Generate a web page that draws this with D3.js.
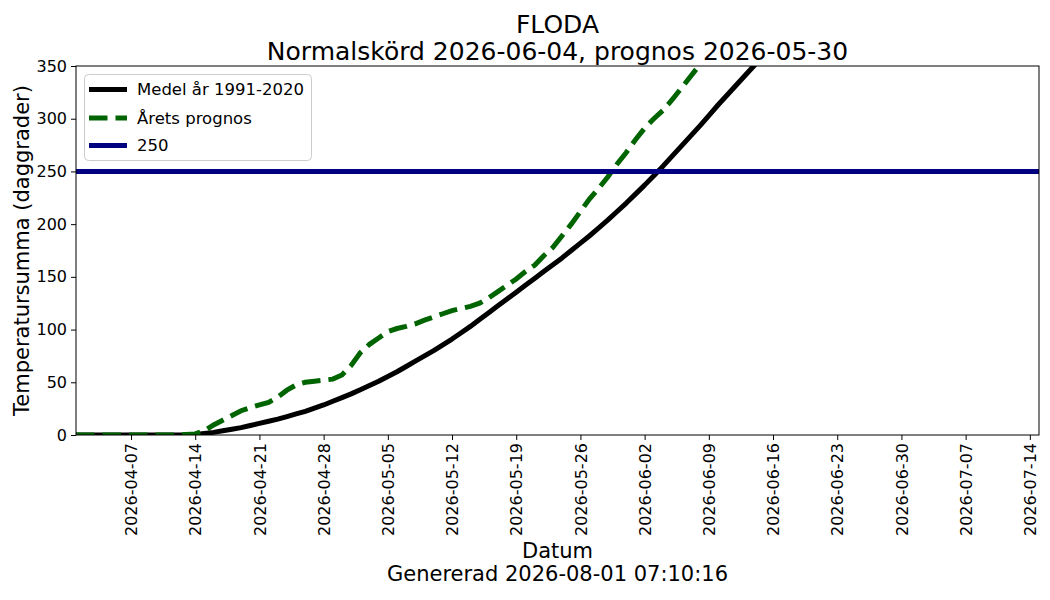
<!DOCTYPE html>
<html>
<head>
<meta charset="utf-8">
<script src="https://cdn.jsdelivr.net/npm/d3@7"></script>
<style>
  body { margin: 0; background: #fff; }
  text { font-family: "DejaVu Sans", sans-serif; }
</style>
</head>
<body>
<script>
const WIDTH = 1050;
const HEIGHT = 600;
const MARGIN = { top: 66, right: 11, bottom: 165, left: 76 };

// data, one value per day starting at START_DATE
const START_DATE = "2026-04-01";
const END_DATE = "2026-07-15";
const MEDEL = [
  0, 0, 0, 0, 0, 0, 0, 0, 0, 0, 0, 0, 0, 0.5, 1.5, 2.5, 4, 5.5, 7, 9,
  11, 13, 15, 17.5, 20, 22.5, 25.5, 28.5, 32, 35.5, 39, 43, 47, 51, 55.5, 60, 65, 70, 75, 80,
  85.5, 91, 97, 103, 109.5, 116, 122.5, 129, 135.5, 142, 148.5, 155, 161.5, 168, 175, 182, 189, 196.5, 204, 212,
  220, 228.5, 237, 246, 255, 264.5, 274, 283.5, 293, 303, 313, 322.5, 332, 341.5, 351, 360.5
];
const PROGNOS = [
  0, 0, 0, 0, 0, 0, 0, 0, 0, 0, 0, 0, 0.5, 1, 4, 9.5, 14, 18.5, 23, 26,
  28.5, 31, 36, 42.5, 47.5, 50, 51, 52, 53, 57, 66, 78, 86, 92, 98, 101, 103, 105.5, 109, 112,
  115, 118, 120, 122, 125, 130, 136, 142, 148, 155, 161, 170, 178, 189, 200, 212, 224, 234, 245, 257,
  268, 280, 291, 300, 308, 318, 329, 340, 351, 362
];
const THRESHOLD = 250;
const Y_TICKS = [0, 50, 100, 150, 200, 250, 300, 350];
const X_TICKS = ["2026-04-07", "2026-04-14", "2026-04-21", "2026-04-28", "2026-05-05", "2026-05-12",
  "2026-05-19", "2026-05-26", "2026-06-02", "2026-06-09", "2026-06-16", "2026-06-23",
  "2026-06-30", "2026-07-07", "2026-07-14"];
const TITLE = ["FLODA", "Normalskörd 2026-06-04, prognos 2026-05-30"];
const LEGEND = ["Medel år 1991-2020", "Årets prognos", "250"];

const parse = d3.utcParse("%Y-%m-%d");
const start = parse(START_DATE);
const toPoints = (arr) => arr.map((v, i) => ({ date: d3.utcDay.offset(start, i), value: v }));

const innerW = WIDTH - MARGIN.left - MARGIN.right;
const innerH = HEIGHT - MARGIN.top - MARGIN.bottom;

//scales
var xScale = d3.scaleUtc()
  .domain([start, parse(END_DATE)])
  .range([MARGIN.left, MARGIN.left + innerW]);

var yScale = d3.scaleLinear()
  .domain([0, 350])
  .range([MARGIN.top + innerH, MARGIN.top]);

var svg = d3.select("body")
  .append("svg")
  .attr("width", WIDTH)
  .attr("height", HEIGHT);

svg.append("defs").append("clipPath").attr("id", "plot")
  .append("rect")
  .attr("x", MARGIN.left)
  .attr("y", MARGIN.top)
  .attr("width", innerW)
  .attr("height", innerH);

//lines
var line = d3.line()
  .x((d) => xScale(d.date))
  .y((d) => yScale(d.value));

var plot = svg.append("g").attr("clip-path", "url(#plot)");

plot.append("path")
  .datum(toPoints(MEDEL))
  .attr("d", line)
  .attr("fill", "none")
  .attr("stroke", "black")
  .attr("stroke-width", 5)
  .attr("stroke-linejoin", "round");

plot.append("path")
  .datum(toPoints(PROGNOS))
  .attr("d", line)
  .attr("fill", "none")
  .attr("stroke", "#006400")
  .attr("stroke-width", 5)
  .attr("stroke-dasharray", "18.5,8");

plot.append("line")
  .attr("x1", MARGIN.left)
  .attr("x2", MARGIN.left + innerW)
  .attr("y1", yScale(THRESHOLD))
  .attr("y2", yScale(THRESHOLD))
  .attr("stroke", "#000080")
  .attr("stroke-width", 5);

//axes
var xAxis = svg.append("g")
  .attr("transform", "translate(0," + (MARGIN.top + innerH) + ")")
  .call(d3.axisBottom(xScale)
    .tickValues(X_TICKS.map(parse))
    .tickFormat(d3.utcFormat("%Y-%m-%d"))
    .tickSize(5)
    .tickSizeOuter(0));
xAxis.selectAll("text")
  .attr("transform", "rotate(-90)")
  .attr("text-anchor", "end")
  .attr("x", -8)
  .attr("y", 0)
  .attr("dy", "0.35em")
  .attr("font-size", "16px")
  .attr("fill", "black");

var yAxis = svg.append("g")
  .attr("transform", "translate(" + MARGIN.left + ",0)")
  .call(d3.axisLeft(yScale).tickValues(Y_TICKS).tickSize(5).tickPadding(4).tickSizeOuter(0));
yAxis.selectAll("text").attr("font-size", "16px").attr("fill", "black");

svg.selectAll(".domain").remove();
svg.selectAll(".tick line").attr("stroke", "black").attr("stroke-width", 1);

//frame
svg.append("rect")
  .attr("x", MARGIN.left)
  .attr("y", MARGIN.top)
  .attr("width", innerW)
  .attr("height", innerH)
  .attr("fill", "none")
  .attr("stroke", "black")
  .attr("stroke-width", 1);

//titles and labels
var cx = MARGIN.left + innerW / 2;
svg.selectAll(".title")
  .data(TITLE)
  .enter()
  .append("text")
  .attr("class", "title")
  .text((d) => d)
  .attr("x", cx)
  .attr("y", (d, i) => 33 + i * 26.5)
  .attr("text-anchor", "middle")
  .attr("font-size", "25px");

svg.append("text")
  .text("Datum")
  .attr("x", cx)
  .attr("y", 558)
  .attr("text-anchor", "middle")
  .attr("font-size", "21px");

svg.append("text")
  .text("Genererad 2026-08-01 07:10:16")
  .attr("x", cx)
  .attr("y", 581)
  .attr("text-anchor", "middle")
  .attr("font-size", "21px");

svg.append("text")
  .text("Temperatursumma (daggrader)")
  .attr("transform", "translate(29," + (MARGIN.top + innerH / 2) + ") rotate(-90)")
  .attr("text-anchor", "middle")
  .attr("font-size", "21px");

//legend
var legend = svg.append("g");
legend.append("rect")
  .attr("x", 84.5)
  .attr("y", 74.5)
  .attr("width", 227)
  .attr("height", 86)
  .attr("rx", 4)
  .attr("fill", "white")
  .attr("fill-opacity", 0.8)
  .attr("stroke", "#cccccc");

var legendStyles = [
  { color: "black", dash: null },
  { color: "#006400", dash: "18.5,8" },
  { color: "#000080", dash: null }
];

var rows = legend.selectAll(".row")
  .data(LEGEND)
  .enter()
  .append("g")
  .attr("transform", (d, i) => "translate(0," + [89.5, 118, 145.5][i] + ")");

rows.append("line")
  .attr("x1", 89)
  .attr("x2", 127)
  .attr("stroke", (d, i) => legendStyles[i].color)
  .attr("stroke-width", 5)
  .attr("stroke-dasharray", (d, i) => legendStyles[i].dash);

rows.append("text")
  .text((d) => d)
  .attr("x", 137)
  .attr("dy", "0.35em")
  .attr("font-size", "16.5px");
</script>
</body>
</html>
